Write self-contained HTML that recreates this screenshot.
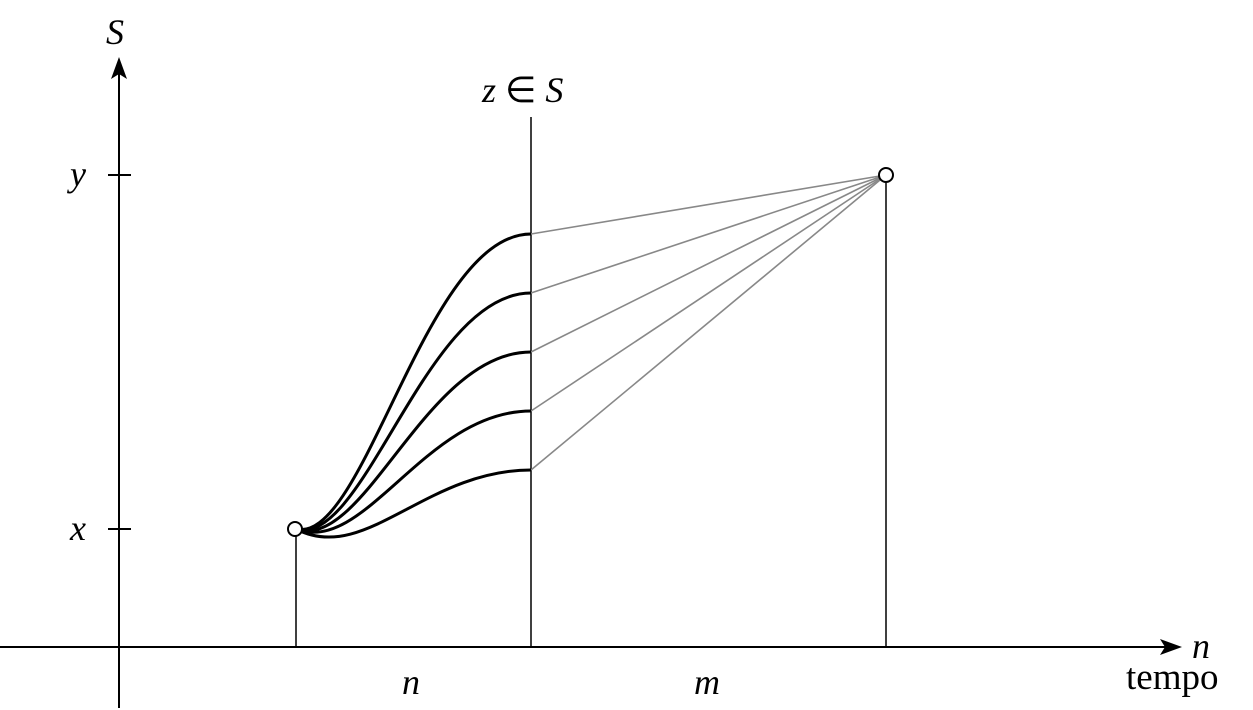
<!DOCTYPE html>
<html><head><meta charset="utf-8"><style>html,body{margin:0;padding:0;background:#fff}svg{display:block}</style></head>
<body>
<svg width="1253" height="710" viewBox="0 0 1253 710" xmlns="http://www.w3.org/2000/svg" font-family="Liberation Serif, serif">
<g stroke="#000" stroke-width="2" fill="none">
<line x1="0" y1="647" x2="1172" y2="647"/>
<line x1="119" y1="708" x2="119" y2="66"/>
<line x1="108" y1="175" x2="131" y2="175"/>
<line x1="108" y1="529" x2="131" y2="529"/>
<line x1="296" y1="536" x2="296" y2="647" stroke-width="1.5"/>
<line x1="531" y1="117" x2="531" y2="647" stroke-width="1.5"/>
<line x1="886" y1="182" x2="886" y2="647" stroke-width="1.5"/>
</g>
<path d="M1182,647 L1160,639 L1165,647 L1160,655 Z" fill="#000"/>
<path d="M119,57 L111,79 L119,74 L127,79 Z" fill="#000"/>
<g stroke="#888" stroke-width="1.6">
<line x1="531" y1="234" x2="886" y2="175"/>
<line x1="531" y1="293" x2="886" y2="175"/>
<line x1="531" y1="352" x2="886" y2="175"/>
<line x1="531" y1="411" x2="886" y2="175"/>
<line x1="531" y1="470" x2="886" y2="175"/>
</g>
<g stroke="#000" stroke-width="3" fill="none">
<path d="M296,529 C365,545 425,234 531,234"/>
<path d="M296,529 C365,548 425,293 531,293"/>
<path d="M296,529 C365,552 425,352 531,352"/>
<path d="M296,529 C365,556 425,411 531,411"/>
<path d="M296,529 C365,565 425,470 531,470"/>
</g>
<circle cx="295" cy="529" r="7" fill="#fff" stroke="#000" stroke-width="2"/>
<circle cx="886" cy="175" r="7" fill="#fff" stroke="#000" stroke-width="2"/>
<g font-size="36" font-style="italic" fill="#000">
<text x="106" y="44">S</text>
<text x="482" y="102">z <tspan font-style="normal">∈</tspan> S</text>
<text x="70" y="186">y</text>
<text x="70" y="540">x</text>
<text x="1192" y="658">n</text>
<text x="402" y="694">n</text>
<text x="694" y="694">m</text>
</g>
<text x="1126" y="689" font-size="37" fill="#000">tempo</text>
</svg>
</body></html>
